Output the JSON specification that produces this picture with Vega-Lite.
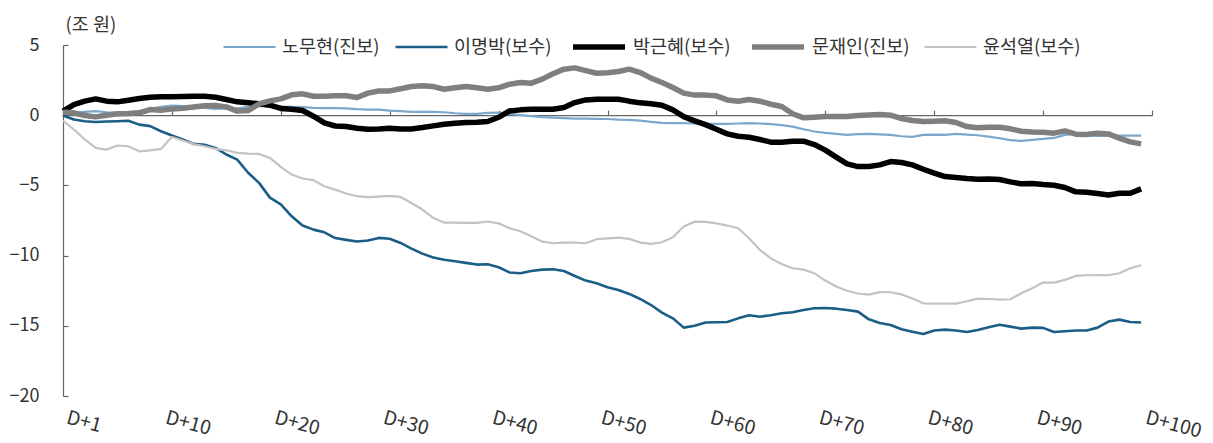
{
 "$schema": "https://vega.github.io/schema/vega-lite/v6.json",
 "width": 1089,
 "height": 351,
 "autosize": {"type": "none"},
 "padding": {"left": 63, "top": 45, "right": 61, "bottom": 47},
 "background": "white",
 "config": {"view": {"stroke": null}, "font": "Noto Sans CJK KR"},
 "datasets": {
  "raw": [
   {"s":"노무현(진보)","d":1,"v":0.1},{"s":"노무현(진보)","d":2,"v":0.17},{"s":"노무현(진보)","d":3,"v":0.24},{"s":"노무현(진보)","d":4,"v":0.29},{"s":"노무현(진보)","d":5,"v":0.21},{"s":"노무현(진보)","d":6,"v":0.17},{"s":"노무현(진보)","d":7,"v":0.17},{"s":"노무현(진보)","d":8,"v":0.29},{"s":"노무현(진보)","d":9,"v":0.45},{"s":"노무현(진보)","d":10,"v":0.59},
   {"s":"노무현(진보)","d":11,"v":0.69},{"s":"노무현(진보)","d":12,"v":0.64},{"s":"노무현(진보)","d":13,"v":0.55},{"s":"노무현(진보)","d":14,"v":0.52},{"s":"노무현(진보)","d":15,"v":0.45},{"s":"노무현(진보)","d":16,"v":0.5},{"s":"노무현(진보)","d":17,"v":0.48},{"s":"노무현(진보)","d":18,"v":0.59},{"s":"노무현(진보)","d":19,"v":0.64},{"s":"노무현(진보)","d":20,"v":0.64},
   {"s":"노무현(진보)","d":21,"v":0.62},{"s":"노무현(진보)","d":22,"v":0.59},{"s":"노무현(진보)","d":23,"v":0.57},{"s":"노무현(진보)","d":24,"v":0.52},{"s":"노무현(진보)","d":25,"v":0.5},{"s":"노무현(진보)","d":26,"v":0.5},{"s":"노무현(진보)","d":27,"v":0.48},{"s":"노무현(진보)","d":28,"v":0.43},{"s":"노무현(진보)","d":29,"v":0.4},{"s":"노무현(진보)","d":30,"v":0.4},
   {"s":"노무현(진보)","d":31,"v":0.33},{"s":"노무현(진보)","d":32,"v":0.29},{"s":"노무현(진보)","d":33,"v":0.24},{"s":"노무현(진보)","d":34,"v":0.24},{"s":"노무현(진보)","d":35,"v":0.24},{"s":"노무현(진보)","d":36,"v":0.21},{"s":"노무현(진보)","d":37,"v":0.14},{"s":"노무현(진보)","d":38,"v":0.1},{"s":"노무현(진보)","d":39,"v":0.1},{"s":"노무현(진보)","d":40,"v":0.17},
   {"s":"노무현(진보)","d":41,"v":0.19},{"s":"노무현(진보)","d":42,"v":0.1},{"s":"노무현(진보)","d":43,"v":0},{"s":"노무현(진보)","d":44,"v":-0.07},{"s":"노무현(진보)","d":45,"v":-0.14},{"s":"노무현(진보)","d":46,"v":-0.17},{"s":"노무현(진보)","d":47,"v":-0.21},{"s":"노무현(진보)","d":48,"v":-0.24},{"s":"노무현(진보)","d":49,"v":-0.24},{"s":"노무현(진보)","d":50,"v":-0.26},
   {"s":"노무현(진보)","d":51,"v":-0.27},{"s":"노무현(진보)","d":52,"v":-0.31},{"s":"노무현(진보)","d":53,"v":-0.33},{"s":"노무현(진보)","d":54,"v":-0.38},{"s":"노무현(진보)","d":55,"v":-0.48},{"s":"노무현(진보)","d":56,"v":-0.55},{"s":"노무현(진보)","d":57,"v":-0.57},{"s":"노무현(진보)","d":58,"v":-0.57},{"s":"노무현(진보)","d":59,"v":-0.59},{"s":"노무현(진보)","d":60,"v":-0.62},
   {"s":"노무현(진보)","d":61,"v":-0.62},{"s":"노무현(진보)","d":62,"v":-0.62},{"s":"노무현(진보)","d":63,"v":-0.59},{"s":"노무현(진보)","d":64,"v":-0.57},{"s":"노무현(진보)","d":65,"v":-0.59},{"s":"노무현(진보)","d":66,"v":-0.64},{"s":"노무현(진보)","d":67,"v":-0.71},{"s":"노무현(진보)","d":68,"v":-0.81},{"s":"노무현(진보)","d":69,"v":-1.0},{"s":"노무현(진보)","d":70,"v":-1.16},
   {"s":"노무현(진보)","d":71,"v":-1.26},{"s":"노무현(진보)","d":72,"v":-1.33},{"s":"노무현(진보)","d":73,"v":-1.4},{"s":"노무현(진보)","d":74,"v":-1.35},{"s":"노무현(진보)","d":75,"v":-1.33},{"s":"노무현(진보)","d":76,"v":-1.37},{"s":"노무현(진보)","d":77,"v":-1.4},{"s":"노무현(진보)","d":78,"v":-1.5},{"s":"노무현(진보)","d":79,"v":-1.54},{"s":"노무현(진보)","d":80,"v":-1.4},
   {"s":"노무현(진보)","d":81,"v":-1.38},{"s":"노무현(진보)","d":82,"v":-1.4},{"s":"노무현(진보)","d":83,"v":-1.33},{"s":"노무현(진보)","d":84,"v":-1.38},{"s":"노무현(진보)","d":85,"v":-1.43},{"s":"노무현(진보)","d":86,"v":-1.52},{"s":"노무현(진보)","d":87,"v":-1.64},{"s":"노무현(진보)","d":88,"v":-1.78},{"s":"노무현(진보)","d":89,"v":-1.83},{"s":"노무현(진보)","d":90,"v":-1.76},
   {"s":"노무현(진보)","d":91,"v":-1.69},{"s":"노무현(진보)","d":92,"v":-1.62},{"s":"노무현(진보)","d":93,"v":-1.4},{"s":"노무현(진보)","d":94,"v":-1.33},{"s":"노무현(진보)","d":95,"v":-1.4},{"s":"노무현(진보)","d":96,"v":-1.47},{"s":"노무현(진보)","d":97,"v":-1.47},{"s":"노무현(진보)","d":98,"v":-1.45},{"s":"노무현(진보)","d":99,"v":-1.45},{"s":"노무현(진보)","d":100,"v":-1.45},

   {"s":"이명박(보수)","d":1,"v":-0.02},{"s":"이명박(보수)","d":2,"v":-0.31},{"s":"이명박(보수)","d":3,"v":-0.43},{"s":"이명박(보수)","d":4,"v":-0.48},{"s":"이명박(보수)","d":5,"v":-0.45},{"s":"이명박(보수)","d":6,"v":-0.43},{"s":"이명박(보수)","d":7,"v":-0.4},{"s":"이명박(보수)","d":8,"v":-0.67},{"s":"이명박(보수)","d":9,"v":-0.78},{"s":"이명박(보수)","d":10,"v":-1.14},
   {"s":"이명박(보수)","d":11,"v":-1.45},{"s":"이명박(보수)","d":12,"v":-1.73},{"s":"이명박(보수)","d":13,"v":-2.04},{"s":"이명박(보수)","d":14,"v":-2.11},{"s":"이명박(보수)","d":15,"v":-2.33},{"s":"이명박(보수)","d":16,"v":-2.8},{"s":"이명박(보수)","d":17,"v":-3.16},{"s":"이명박(보수)","d":18,"v":-4.1},{"s":"이명박(보수)","d":19,"v":-4.82},{"s":"이명박(보수)","d":20,"v":-5.87},
   {"s":"이명박(보수)","d":21,"v":-6.35},{"s":"이명박(보수)","d":22,"v":-7.2},{"s":"이명박(보수)","d":23,"v":-7.86},{"s":"이명박(보수)","d":24,"v":-8.15},{"s":"이명박(보수)","d":25,"v":-8.34},{"s":"이명박(보수)","d":26,"v":-8.75},{"s":"이명박(보수)","d":27,"v":-8.88},{"s":"이명박(보수)","d":28,"v":-9.0},{"s":"이명박(보수)","d":29,"v":-8.93},{"s":"이명박(보수)","d":30,"v":-8.74},
   {"s":"이명박(보수)","d":31,"v":-8.8},{"s":"이명박(보수)","d":32,"v":-9.1},{"s":"이명박(보수)","d":33,"v":-9.5},{"s":"이명박(보수)","d":34,"v":-9.86},{"s":"이명박(보수)","d":35,"v":-10.14},{"s":"이명박(보수)","d":36,"v":-10.3},{"s":"이명박(보수)","d":37,"v":-10.4},{"s":"이명박(보수)","d":38,"v":-10.52},{"s":"이명박(보수)","d":39,"v":-10.64},{"s":"이명박(보수)","d":40,"v":-10.62},
   {"s":"이명박(보수)","d":41,"v":-10.83},{"s":"이명박(보수)","d":42,"v":-11.2},{"s":"이명박(보수)","d":43,"v":-11.26},{"s":"이명박(보수)","d":44,"v":-11.1},{"s":"이명박(보수)","d":45,"v":-11.0},{"s":"이명박(보수)","d":46,"v":-10.97},{"s":"이명박(보수)","d":47,"v":-11.1},{"s":"이명박(보수)","d":48,"v":-11.45},{"s":"이명박(보수)","d":49,"v":-11.78},{"s":"이명박(보수)","d":50,"v":-11.97},
   {"s":"이명박(보수)","d":51,"v":-12.25},{"s":"이명박(보수)","d":52,"v":-12.45},{"s":"이명박(보수)","d":53,"v":-12.73},{"s":"이명박(보수)","d":54,"v":-13.09},{"s":"이명박(보수)","d":55,"v":-13.52},{"s":"이명박(보수)","d":56,"v":-14.06},{"s":"이명박(보수)","d":57,"v":-14.47},{"s":"이명박(보수)","d":58,"v":-15.13},{"s":"이명박(보수)","d":59,"v":-15.0},{"s":"이명박(보수)","d":60,"v":-14.77},
   {"s":"이명박(보수)","d":61,"v":-14.75},{"s":"이명박(보수)","d":62,"v":-14.73},{"s":"이명박(보수)","d":63,"v":-14.47},{"s":"이명박(보수)","d":64,"v":-14.25},{"s":"이명박(보수)","d":65,"v":-14.35},{"s":"이명박(보수)","d":66,"v":-14.25},{"s":"이명박(보수)","d":67,"v":-14.11},{"s":"이명박(보수)","d":68,"v":-14.04},{"s":"이명박(보수)","d":69,"v":-13.87},{"s":"이명박(보수)","d":70,"v":-13.75},
   {"s":"이명박(보수)","d":71,"v":-13.73},{"s":"이명박(보수)","d":72,"v":-13.78},{"s":"이명박(보수)","d":73,"v":-13.87},{"s":"이명박(보수)","d":74,"v":-13.99},{"s":"이명박(보수)","d":75,"v":-14.54},{"s":"이명박(보수)","d":76,"v":-14.8},{"s":"이명박(보수)","d":77,"v":-14.94},{"s":"이명박(보수)","d":78,"v":-15.25},{"s":"이명박(보수)","d":79,"v":-15.42},{"s":"이명박(보수)","d":80,"v":-15.58},
   {"s":"이명박(보수)","d":81,"v":-15.34},{"s":"이명박(보수)","d":82,"v":-15.27},{"s":"이명박(보수)","d":83,"v":-15.34},{"s":"이명박(보수)","d":84,"v":-15.44},{"s":"이명박(보수)","d":85,"v":-15.3},{"s":"이명박(보수)","d":86,"v":-15.1},{"s":"이명박(보수)","d":87,"v":-14.92},{"s":"이명박(보수)","d":88,"v":-15.06},{"s":"이명박(보수)","d":89,"v":-15.2},{"s":"이명박(보수)","d":90,"v":-15.13},
   {"s":"이명박(보수)","d":91,"v":-15.15},{"s":"이명박(보수)","d":92,"v":-15.44},{"s":"이명박(보수)","d":93,"v":-15.39},{"s":"이명박(보수)","d":94,"v":-15.34},{"s":"이명박(보수)","d":95,"v":-15.34},{"s":"이명박(보수)","d":96,"v":-15.13},{"s":"이명박(보수)","d":97,"v":-14.7},{"s":"이명박(보수)","d":98,"v":-14.56},{"s":"이명박(보수)","d":99,"v":-14.73},{"s":"이명박(보수)","d":100,"v":-14.77},

   {"s":"박근혜(보수)","d":1,"v":0.29},{"s":"박근혜(보수)","d":2,"v":0.76},{"s":"박근혜(보수)","d":3,"v":1.0},{"s":"박근혜(보수)","d":4,"v":1.16},{"s":"박근혜(보수)","d":5,"v":1.0},{"s":"박근혜(보수)","d":6,"v":0.95},{"s":"박근혜(보수)","d":7,"v":1.07},{"s":"박근혜(보수)","d":8,"v":1.19},{"s":"박근혜(보수)","d":9,"v":1.28},{"s":"박근혜(보수)","d":10,"v":1.31},
   {"s":"박근혜(보수)","d":11,"v":1.31},{"s":"박근혜(보수)","d":12,"v":1.33},{"s":"박근혜(보수)","d":13,"v":1.35},{"s":"박근혜(보수)","d":14,"v":1.35},{"s":"박근혜(보수)","d":15,"v":1.28},{"s":"박근혜(보수)","d":16,"v":1.12},{"s":"박근혜(보수)","d":17,"v":0.95},{"s":"박근혜(보수)","d":18,"v":0.88},{"s":"박근혜(보수)","d":19,"v":0.81},{"s":"박근혜(보수)","d":20,"v":0.71},
   {"s":"박근혜(보수)","d":21,"v":0.48},{"s":"박근혜(보수)","d":22,"v":0.43},{"s":"박근혜(보수)","d":23,"v":0.33},{"s":"박근혜(보수)","d":24,"v":-0.07},{"s":"박근혜(보수)","d":25,"v":-0.55},{"s":"박근혜(보수)","d":26,"v":-0.77},{"s":"박근혜(보수)","d":27,"v":-0.81},{"s":"박근혜(보수)","d":28,"v":-0.93},{"s":"박근혜(보수)","d":29,"v":-1.0},{"s":"박근혜(보수)","d":30,"v":-0.98},
   {"s":"박근혜(보수)","d":31,"v":-0.93},{"s":"박근혜(보수)","d":32,"v":-0.98},{"s":"박근혜(보수)","d":33,"v":-0.98},{"s":"박근혜(보수)","d":34,"v":-0.88},{"s":"박근혜(보수)","d":35,"v":-0.76},{"s":"박근혜(보수)","d":36,"v":-0.64},{"s":"박근혜(보수)","d":37,"v":-0.57},{"s":"박근혜(보수)","d":38,"v":-0.52},{"s":"박근혜(보수)","d":39,"v":-0.5},{"s":"박근혜(보수)","d":40,"v":-0.45},
   {"s":"박근혜(보수)","d":41,"v":-0.15},{"s":"박근혜(보수)","d":42,"v":0.3},{"s":"박근혜(보수)","d":43,"v":0.38},{"s":"박근혜(보수)","d":44,"v":0.43},{"s":"박근혜(보수)","d":45,"v":0.43},{"s":"박근혜(보수)","d":46,"v":0.43},{"s":"박근혜(보수)","d":47,"v":0.55},{"s":"박근혜(보수)","d":48,"v":0.9},{"s":"박근혜(보수)","d":49,"v":1.09},{"s":"박근혜(보수)","d":50,"v":1.14},
   {"s":"박근혜(보수)","d":51,"v":1.14},{"s":"박근혜(보수)","d":52,"v":1.14},{"s":"박근혜(보수)","d":53,"v":1.0},{"s":"박근혜(보수)","d":54,"v":0.88},{"s":"박근혜(보수)","d":55,"v":0.81},{"s":"박근혜(보수)","d":56,"v":0.71},{"s":"박근혜(보수)","d":57,"v":0.38},{"s":"박근혜(보수)","d":58,"v":-0.1},{"s":"박근혜(보수)","d":59,"v":-0.4},{"s":"박근혜(보수)","d":60,"v":-0.67},
   {"s":"박근혜(보수)","d":61,"v":-1.0},{"s":"박근혜(보수)","d":62,"v":-1.33},{"s":"박근혜(보수)","d":63,"v":-1.5},{"s":"박근혜(보수)","d":64,"v":-1.57},{"s":"박근혜(보수)","d":65,"v":-1.73},{"s":"박근혜(보수)","d":66,"v":-1.92},{"s":"박근혜(보수)","d":67,"v":-1.92},{"s":"박근혜(보수)","d":68,"v":-1.85},{"s":"박근혜(보수)","d":69,"v":-1.85},{"s":"박근혜(보수)","d":70,"v":-2.09},
   {"s":"박근혜(보수)","d":71,"v":-2.49},{"s":"박근혜(보수)","d":72,"v":-2.99},{"s":"박근혜(보수)","d":73,"v":-3.47},{"s":"박근혜(보수)","d":74,"v":-3.66},{"s":"박근혜(보수)","d":75,"v":-3.66},{"s":"박근혜(보수)","d":76,"v":-3.54},{"s":"박근혜(보수)","d":77,"v":-3.3},{"s":"박근혜(보수)","d":78,"v":-3.37},{"s":"박근혜(보수)","d":79,"v":-3.54},{"s":"박근혜(보수)","d":80,"v":-3.85},
   {"s":"박근혜(보수)","d":81,"v":-4.13},{"s":"박근혜(보수)","d":82,"v":-4.37},{"s":"박근혜(보수)","d":83,"v":-4.44},{"s":"박근혜(보수)","d":84,"v":-4.51},{"s":"박근혜(보수)","d":85,"v":-4.56},{"s":"박근혜(보수)","d":86,"v":-4.54},{"s":"박근혜(보수)","d":87,"v":-4.58},{"s":"박근혜(보수)","d":88,"v":-4.75},{"s":"박근혜(보수)","d":89,"v":-4.89},{"s":"박근혜(보수)","d":90,"v":-4.87},
   {"s":"박근혜(보수)","d":91,"v":-4.94},{"s":"박근혜(보수)","d":92,"v":-4.99},{"s":"박근혜(보수)","d":93,"v":-5.15},{"s":"박근혜(보수)","d":94,"v":-5.46},{"s":"박근혜(보수)","d":95,"v":-5.49},{"s":"박근혜(보수)","d":96,"v":-5.58},{"s":"박근혜(보수)","d":97,"v":-5.68},{"s":"박근혜(보수)","d":98,"v":-5.56},{"s":"박근혜(보수)","d":99,"v":-5.56},{"s":"박근혜(보수)","d":100,"v":-5.25},

   {"s":"문재인(진보)","d":1,"v":0.21},{"s":"문재인(진보)","d":2,"v":0.17},{"s":"문재인(진보)","d":3,"v":-0.02},{"s":"문재인(진보)","d":4,"v":-0.12},{"s":"문재인(진보)","d":5,"v":0},{"s":"문재인(진보)","d":6,"v":0.1},{"s":"문재인(진보)","d":7,"v":0.12},{"s":"문재인(진보)","d":8,"v":0.17},{"s":"문재인(진보)","d":9,"v":0.4},{"s":"문재인(진보)","d":10,"v":0.36},
   {"s":"문재인(진보)","d":11,"v":0.45},{"s":"문재인(진보)","d":12,"v":0.5},{"s":"문재인(진보)","d":13,"v":0.59},{"s":"문재인(진보)","d":14,"v":0.67},{"s":"문재인(진보)","d":15,"v":0.69},{"s":"문재인(진보)","d":16,"v":0.59},{"s":"문재인(진보)","d":17,"v":0.29},{"s":"문재인(진보)","d":18,"v":0.33},{"s":"문재인(진보)","d":19,"v":0.81},{"s":"문재인(진보)","d":20,"v":1.02},
   {"s":"문재인(진보)","d":21,"v":1.16},{"s":"문재인(진보)","d":22,"v":1.45},{"s":"문재인(진보)","d":23,"v":1.52},{"s":"문재인(진보)","d":24,"v":1.35},{"s":"문재인(진보)","d":25,"v":1.35},{"s":"문재인(진보)","d":26,"v":1.38},{"s":"문재인(진보)","d":27,"v":1.38},{"s":"문재인(진보)","d":28,"v":1.26},{"s":"문재인(진보)","d":29,"v":1.57},{"s":"문재인(진보)","d":30,"v":1.72},
   {"s":"문재인(진보)","d":31,"v":1.73},{"s":"문재인(진보)","d":32,"v":1.88},{"s":"문재인(진보)","d":33,"v":2.04},{"s":"문재인(진보)","d":34,"v":2.09},{"s":"문재인(진보)","d":35,"v":2.04},{"s":"문재인(진보)","d":36,"v":1.85},{"s":"문재인(진보)","d":37,"v":1.95},{"s":"문재인(진보)","d":38,"v":2.04},{"s":"문재인(진보)","d":39,"v":1.95},{"s":"문재인(진보)","d":40,"v":1.85},
   {"s":"문재인(진보)","d":41,"v":1.95},{"s":"문재인(진보)","d":42,"v":2.21},{"s":"문재인(진보)","d":43,"v":2.33},{"s":"문재인(진보)","d":44,"v":2.28},{"s":"문재인(진보)","d":45,"v":2.57},{"s":"문재인(진보)","d":46,"v":2.95},{"s":"문재인(진보)","d":47,"v":3.28},{"s":"문재인(진보)","d":48,"v":3.37},{"s":"문재인(진보)","d":49,"v":3.18},{"s":"문재인(진보)","d":50,"v":2.99},
   {"s":"문재인(진보)","d":51,"v":3.02},{"s":"문재인(진보)","d":52,"v":3.11},{"s":"문재인(진보)","d":53,"v":3.28},{"s":"문재인(진보)","d":54,"v":3.04},{"s":"문재인(진보)","d":55,"v":2.64},{"s":"문재인(진보)","d":56,"v":2.33},{"s":"문재인(진보)","d":57,"v":1.97},{"s":"문재인(진보)","d":58,"v":1.57},{"s":"문재인(진보)","d":59,"v":1.43},{"s":"문재인(진보)","d":60,"v":1.43},
   {"s":"문재인(진보)","d":61,"v":1.38},{"s":"문재인(진보)","d":62,"v":1.09},{"s":"문재인(진보)","d":63,"v":1.0},{"s":"문재인(진보)","d":64,"v":1.12},{"s":"문재인(진보)","d":65,"v":1.0},{"s":"문재인(진보)","d":66,"v":0.78},{"s":"문재인(진보)","d":67,"v":0.62},{"s":"문재인(진보)","d":68,"v":0.1},{"s":"문재인(진보)","d":69,"v":-0.19},{"s":"문재인(진보)","d":70,"v":-0.14},
   {"s":"문재인(진보)","d":71,"v":-0.1},{"s":"문재인(진보)","d":72,"v":-0.1},{"s":"문재인(진보)","d":73,"v":-0.1},{"s":"문재인(진보)","d":74,"v":-0.02},{"s":"문재인(진보)","d":75,"v":0.02},{"s":"문재인(진보)","d":76,"v":0.05},{"s":"문재인(진보)","d":77,"v":0},{"s":"문재인(진보)","d":78,"v":-0.24},{"s":"문재인(진보)","d":79,"v":-0.38},{"s":"문재인(진보)","d":80,"v":-0.45},
   {"s":"문재인(진보)","d":81,"v":-0.43},{"s":"문재인(진보)","d":82,"v":-0.4},{"s":"문재인(진보)","d":83,"v":-0.52},{"s":"문재인(진보)","d":84,"v":-0.81},{"s":"문재인(진보)","d":85,"v":-0.9},{"s":"문재인(진보)","d":86,"v":-0.86},{"s":"문재인(진보)","d":87,"v":-0.86},{"s":"문재인(진보)","d":88,"v":-0.97},{"s":"문재인(진보)","d":89,"v":-1.14},{"s":"문재인(진보)","d":90,"v":-1.19},
   {"s":"문재인(진보)","d":91,"v":-1.21},{"s":"문재인(진보)","d":92,"v":-1.28},{"s":"문재인(진보)","d":93,"v":-1.12},{"s":"문재인(진보)","d":94,"v":-1.35},{"s":"문재인(진보)","d":95,"v":-1.38},{"s":"문재인(진보)","d":96,"v":-1.28},{"s":"문재인(진보)","d":97,"v":-1.33},{"s":"문재인(진보)","d":98,"v":-1.64},{"s":"문재인(진보)","d":99,"v":-1.9},{"s":"문재인(진보)","d":100,"v":-2.04},

   {"s":"윤석열(보수)","d":1,"v":-0.38},{"s":"윤석열(보수)","d":2,"v":-1.02},{"s":"윤석열(보수)","d":3,"v":-1.73},{"s":"윤석열(보수)","d":4,"v":-2.33},{"s":"윤석열(보수)","d":5,"v":-2.45},{"s":"윤석열(보수)","d":6,"v":-2.16},{"s":"윤석열(보수)","d":7,"v":-2.21},{"s":"윤석열(보수)","d":8,"v":-2.57},{"s":"윤석열(보수)","d":9,"v":-2.5},{"s":"윤석열(보수)","d":10,"v":-2.4},
   {"s":"윤석열(보수)","d":11,"v":-1.55},{"s":"윤석열(보수)","d":12,"v":-1.8},{"s":"윤석열(보수)","d":13,"v":-2.05},{"s":"윤석열(보수)","d":14,"v":-2.21},{"s":"윤석열(보수)","d":15,"v":-2.4},{"s":"윤석열(보수)","d":16,"v":-2.5},{"s":"윤석열(보수)","d":17,"v":-2.68},{"s":"윤석열(보수)","d":18,"v":-2.73},{"s":"윤석열(보수)","d":19,"v":-2.76},{"s":"윤석열(보수)","d":20,"v":-3.04},
   {"s":"윤석열(보수)","d":21,"v":-3.68},{"s":"윤석열(보수)","d":22,"v":-4.23},{"s":"윤석열(보수)","d":23,"v":-4.51},{"s":"윤석열(보수)","d":24,"v":-4.63},{"s":"윤석열(보수)","d":25,"v":-5.06},{"s":"윤석열(보수)","d":26,"v":-5.3},{"s":"윤석열(보수)","d":27,"v":-5.58},{"s":"윤석열(보수)","d":28,"v":-5.77},{"s":"윤석열(보수)","d":29,"v":-5.84},{"s":"윤석열(보수)","d":30,"v":-5.8},
   {"s":"윤석열(보수)","d":31,"v":-5.75},{"s":"윤석열(보수)","d":32,"v":-5.82},{"s":"윤석열(보수)","d":33,"v":-6.25},{"s":"윤석열(보수)","d":34,"v":-6.72},{"s":"윤석열(보수)","d":35,"v":-7.32},{"s":"윤석열(보수)","d":36,"v":-7.65},{"s":"윤석열(보수)","d":37,"v":-7.65},{"s":"윤석열(보수)","d":38,"v":-7.67},{"s":"윤석열(보수)","d":39,"v":-7.67},{"s":"윤석열(보수)","d":40,"v":-7.57},
   {"s":"윤석열(보수)","d":41,"v":-7.7},{"s":"윤석열(보수)","d":42,"v":-8.05},{"s":"윤석열(보수)","d":43,"v":-8.27},{"s":"윤석열(보수)","d":44,"v":-8.62},{"s":"윤석열(보수)","d":45,"v":-9.0},{"s":"윤석열(보수)","d":46,"v":-9.12},{"s":"윤석열(보수)","d":47,"v":-9.07},{"s":"윤석열(보수)","d":48,"v":-9.07},{"s":"윤석열(보수)","d":49,"v":-9.12},{"s":"윤석열(보수)","d":50,"v":-8.83},
   {"s":"윤석열(보수)","d":51,"v":-8.78},{"s":"윤석열(보수)","d":52,"v":-8.72},{"s":"윤석열(보수)","d":53,"v":-8.81},{"s":"윤석열(보수)","d":54,"v":-9.07},{"s":"윤석열(보수)","d":55,"v":-9.17},{"s":"윤석열(보수)","d":56,"v":-9.05},{"s":"윤석열(보수)","d":57,"v":-8.69},{"s":"윤석열(보수)","d":58,"v":-7.93},{"s":"윤석열(보수)","d":59,"v":-7.58},{"s":"윤석열(보수)","d":60,"v":-7.6},
   {"s":"윤석열(보수)","d":61,"v":-7.7},{"s":"윤석열(보수)","d":62,"v":-7.86},{"s":"윤석열(보수)","d":63,"v":-8.05},{"s":"윤석열(보수)","d":64,"v":-8.76},{"s":"윤석열(보수)","d":65,"v":-9.6},{"s":"윤석열(보수)","d":66,"v":-10.2},{"s":"윤석열(보수)","d":67,"v":-10.6},{"s":"윤석열(보수)","d":68,"v":-10.9},{"s":"윤석열(보수)","d":69,"v":-11.0},{"s":"윤석열(보수)","d":70,"v":-11.26},
   {"s":"윤석열(보수)","d":71,"v":-11.78},{"s":"윤석열(보수)","d":72,"v":-12.2},{"s":"윤석열(보수)","d":73,"v":-12.5},{"s":"윤석열(보수)","d":74,"v":-12.7},{"s":"윤석열(보수)","d":75,"v":-12.78},{"s":"윤석열(보수)","d":76,"v":-12.6},{"s":"윤석열(보수)","d":77,"v":-12.61},{"s":"윤석열(보수)","d":78,"v":-12.76},{"s":"윤석열(보수)","d":79,"v":-13.06},{"s":"윤석열(보수)","d":80,"v":-13.4},
   {"s":"윤석열(보수)","d":81,"v":-13.42},{"s":"윤석열(보수)","d":82,"v":-13.42},{"s":"윤석열(보수)","d":83,"v":-13.42},{"s":"윤석열(보수)","d":84,"v":-13.25},{"s":"윤석열(보수)","d":85,"v":-13.06},{"s":"윤석열(보수)","d":86,"v":-13.09},{"s":"윤석열(보수)","d":87,"v":-13.14},{"s":"윤석열(보수)","d":88,"v":-13.11},{"s":"윤석열(보수)","d":89,"v":-12.68},{"s":"윤석열(보수)","d":90,"v":-12.33},
   {"s":"윤석열(보수)","d":91,"v":-11.92},{"s":"윤석열(보수)","d":92,"v":-11.92},{"s":"윤석열(보수)","d":93,"v":-11.73},{"s":"윤석열(보수)","d":94,"v":-11.45},{"s":"윤석열(보수)","d":95,"v":-11.4},{"s":"윤석열(보수)","d":96,"v":-11.38},{"s":"윤석열(보수)","d":97,"v":-11.4},{"s":"윤석열(보수)","d":98,"v":-11.26},{"s":"윤석열(보수)","d":99,"v":-10.9},{"s":"윤석열(보수)","d":100,"v":-10.69}
  ]
 },
 "data": {"name": "raw"},
 "mark": {"type": "line", "strokeJoin": "round", "strokeCap": "butt"},
 "encoding": {
  "x": {
   "field": "d", "type": "quantitative",
   "scale": {"domain": [1, 101], "nice": false, "zero": false},
   "axis": {
    "title": null, "orient": "bottom", "offset": -280.8,
    "values": [1, 11, 21, 31, 41, 51, 61, 71, 81, 91, 101],
    "grid": false,
    "domainColor": "#666666", "domainWidth": 1.2,
    "tickColor": "#666666", "tickSize": -5, "tickWidth": 1.2,
    "labelExpr": "datum.value == 1 ? 'D+1' : 'D+' + (datum.value - 1)",
    "labelAngle": 15, "labelAlign": "left", "labelBaseline": "top",
    "labelPadding": 298,
    "labelOffset": {"condition": {"test": "datum.value == 1", "value": 6}, "value": -4},
    "labelFontSize": 19.5, "labelColor": "#333333",
    "labelFlush": false, "labelOverlap": false, "labelBound": false
   }
  },
  "y": {
   "field": "v", "type": "quantitative",
   "scale": {"domain": [-20, 5], "nice": false},
   "axis": {
    "values": [-20, -15, -10, -5, 0, 5],
    "title": "(조 원)", "titleAngle": 0, "titleAlign": "left", "titleBaseline": "middle",
    "titleX": 2, "titleY": -21, "titleFontSize": 18.5, "titleFontWeight": "normal", "titleColor": "#333333",
    "grid": false,
    "domainColor": "#666666", "domainWidth": 1.2,
    "tickColor": "#666666", "tickSize": -5, "tickWidth": 1.2,
    "labelFontSize": 18, "labelPadding": 29, "labelColor": "#333333"
   }
  },
  "color": {
   "field": "s", "type": "nominal",
   "scale": {
    "domain": ["노무현(진보)", "이명박(보수)", "박근혜(보수)", "문재인(진보)", "윤석열(보수)"],
    "range": ["#7ba7cc", "#1a5e87", "#000000", "#7f7f7f", "#c3c3c3"]
   },
   "legend": {
    "orient": "none", "legendX": 159, "legendY": -27, "direction": "horizontal",
    "title": null, "symbolType": "stroke", "symbolSize": 2704,
    "labelFontSize": 18.5, "labelColor": "#333333", "labelOffset": 5, "columnPadding": 10, "labelLimit": 200
   }
  },
  "strokeWidth": {
   "field": "s", "type": "nominal",
   "scale": {
    "type": "ordinal",
    "domain": ["노무현(진보)", "이명박(보수)", "박근혜(보수)", "문재인(진보)", "윤석열(보수)"],
    "range": [2.2, 2.6, 5.5, 5.5, 2.2]
   },
   "legend": {
    "orient": "none", "legendX": 159, "legendY": -27, "direction": "horizontal",
    "title": null, "symbolType": "stroke", "symbolSize": 2704,
    "labelFontSize": 18.5, "labelColor": "#333333", "labelOffset": 5, "columnPadding": 10, "labelLimit": 200
   }
  }
 }
}
